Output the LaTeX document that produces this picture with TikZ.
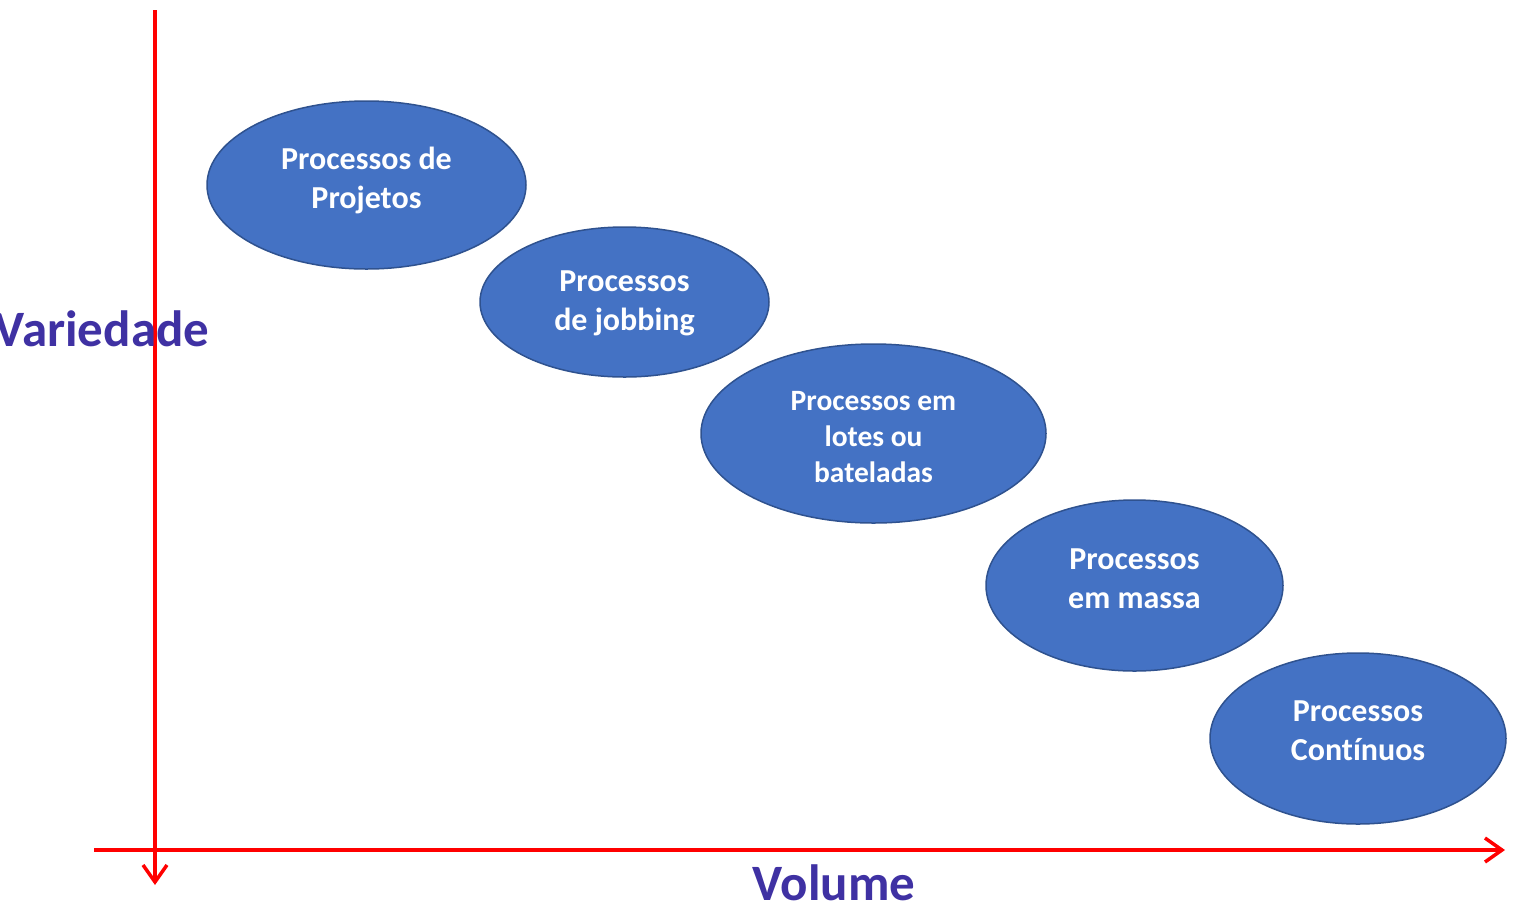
\documentclass[tikz,border=0pt]{standalone}
\usepackage{fontspec}
\setmainfont[Ligatures=NoCommon]{Carlito}
\usetikzlibrary{shapes.geometric,arrows.meta}
\definecolor{procfill}{RGB}{68,114,196}
\definecolor{procdraw}{RGB}{47,82,143}
\definecolor{axisred}{RGB}{255,0,0}
\definecolor{labelcol}{RGB}{63,49,163}
\tikzset{
  proc/.style={ellipse, fill=procfill, draw=procdraw, line width=1.5pt, inner sep=0pt},
  proctext/.style={text=white, align=center, inner sep=0pt, font=\bfseries\fontsize{32}{39}\selectfont},
  proctextsmall/.style={proctext, font=\bfseries\fontsize{29.5}{36}\selectfont},
  axis/.style={draw=axisred, line width=3.5pt, -{Straight Barb[length=17pt,width=24pt]}},
  axlabel/.style={text=labelcol, font=\bfseries\fontsize{51}{60}\selectfont, inner sep=0pt, text depth=0pt}
}
\begin{document}
\begin{tikzpicture}[x=1pt,y=-1pt]
\useasboundingbox (0,0) rectangle (1515,906);
\node[proc, minimum width=319pt, minimum height=168pt,
  label={[proctext, yshift=5pt]center:Processos de\\Projetos}] (p1) at (366.5,185) {};
\node[proc, minimum width=289pt, minimum height=150pt,
  label={[proctext, yshift=-1pt]center:Processos\\de jobbing}] (p2) at (624.5,302) {};
\node[proc, minimum width=345pt, minimum height=179pt,
  label={[proctextsmall, yshift=-4pt]center:Processos em\\lotes ou\\bateladas}] (p3) at (873.5,433.5) {};
\node[proc, minimum width=297pt, minimum height=171pt,
  label={[proctext, yshift=7pt]center:Processos\\em massa}] (p4) at (1134.5,585.5) {};
\node[proc, minimum width=296pt, minimum height=171pt,
  label={[proctext, yshift=8pt]center:Processos\\Contínuos}] (p5) at (1358,738.5) {};
\coordinate (vtop) at (155,10);
\coordinate (vbot) at (155,885);
\coordinate (hleft) at (94,850);
\coordinate (hright) at (1505,850);
\draw[axis] (vtop) -- (vbot);
\draw[axis] (hleft) -- (hright);
\node[axlabel, anchor=base] (var) at (102,346) {Variedade};
\node[axlabel, anchor=base] (vol) at (834,900) {Volume};
\end{tikzpicture}
\end{document}
